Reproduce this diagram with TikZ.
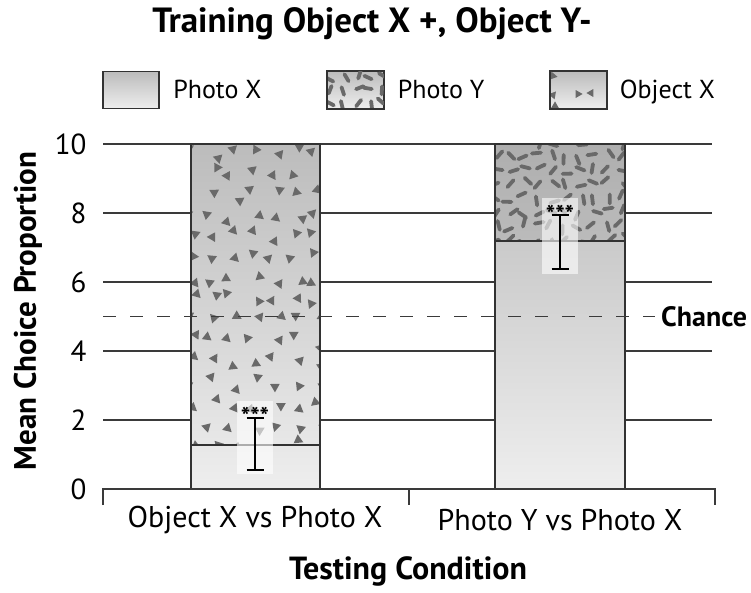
\documentclass[tikz,border=0pt]{standalone}
\usepackage{fontspec}
\setmainfont{PT Sans}
\usepackage{tikz}
\usetikzlibrary{positioning}
\definecolor{GridDark}{RGB}{58,58,58}
\definecolor{BarEdge}{RGB}{50,50,50}
\definecolor{MarkGray}{RGB}{105,105,105}
\definecolor{ShadeTop}{RGB}{188,188,188}
\definecolor{ShadeBot}{RGB}{238,238,238}
\tikzset{
  gridln/.style={GridDark,line width=1.5pt},
  chanceln/.style={GridDark,line width=1.8pt,dash pattern=on 13pt off 14pt},
  barfill/.style={top color=ShadeTop,bottom color=ShadeBot},
  baredge/.style={draw=BarEdge,line width=1.8pt},
  keybox/.style={draw=BarEdge,line width=1.5pt,top color=ShadeTop,bottom color=ShadeBot,minimum width=56pt,minimum height=37pt,inner sep=0pt},
  trimark/.style={fill=MarkGray},
  dashmark/.style={draw=MarkGray,line width=3.8pt,line cap=round},
  errbg/.style={fill=white,fill opacity=0.6},
  errln/.style={black,line width=1.4pt},
  ticklbl/.style={font=\fontsize{29}{29}\selectfont,anchor=east},
  keylbl/.style={font=\fontsize{26}{26}\selectfont,anchor=base west},
  catlbl/.style={font=\fontsize{30}{30}\selectfont},
  axttl/.style={font=\bfseries\fontsize{32}{32}\selectfont},
  stars/.style={font=\bfseries\fontsize{25}{25}\selectfont,inner sep=0pt},
}

\begin{document}
\begin{tikzpicture}[x=1pt,y=1pt]
  \useasboundingbox (0,0) rectangle (751,592);
  \pgfmathsetseed{11}

  % data part: y in choice units, 0 at 103pt
  \begin{scope}[shift={(0pt,103pt)},y=34.5pt]
    \foreach \v in {2,4,...,10}
      \draw[gridln] (103,\v) -- (712,\v);
    \coordinate (b1lo)  at (191,0);
    \coordinate (b1mid) at (191,1.28);
    \coordinate (b1mr)  at (320,1.28);
    \coordinate (b1top) at (320,10);
    \coordinate (b2lo)  at (495,0);
    \coordinate (b2mid) at (495,7.19);
    \coordinate (b2mr)  at (625,7.19);
    \coordinate (b2top) at (625,10);
    \fill[barfill] (b1lo) rectangle (b1top);
    \fill[barfill] (b2lo) rectangle (b2top);
    \fill[black,opacity=0.07] (b2mid) rectangle (b2top);
  \end{scope}

  % Object X triangles
  \begin{scope}
    \clip (b1mid) rectangle (b1top);
    \foreach \i in {0,...,6}
      \foreach \j in {0,...,15}{
        \pgfmathsetmacro\tx{191+21*\i+7*rand}
        \pgfmathsetmacro\ty{146+21*\j+7*rand}
        \pgfmathsetmacro\tr{360*rnd}
        \fill[trimark,shift={(\tx,\ty)},rotate=\tr] (90:5.6) -- (210:5.6) -- (330:5.6) -- cycle;
      }
  \end{scope}
  % Photo Y dashes
  \begin{scope}
    \clip (b2mid) rectangle (b2top);
    \foreach \i in {0,...,9}
      \foreach \j in {0,...,7}{
        \pgfmathsetmacro\tx{496+14*\i+4*rand}
        \pgfmathsetmacro\ty{352+14*\j+4*rand}
        \pgfmathsetmacro\tr{360*rnd}
        \draw[dashmark,shift={(\tx,\ty)},rotate=\tr] (-4.5,0) -- (4.5,0);
      }
  \end{scope}

  \draw[baredge] (b1lo) rectangle (b1top) (b1mid) -- (b1mr);
  \draw[baredge] (b2lo) rectangle (b2top) (b2mid) -- (b2mr);

  \begin{scope}[shift={(0pt,103pt)},y=34.5pt]
    % axis
    \draw[gridln] (103,-0.47) -- (103,0) -- (715,0) -- (715,-0.47);
    \draw[gridln] (409,0) -- (409,-0.47);
    \foreach \v in {0,2,...,10}
      \node[ticklbl] (yt\v) at (90,\v) {\v};
    % chance
    \draw[chanceln] (103,5) -- (655,5);
    \node[anchor=west,font=\bfseries\fontsize{28}{28}\selectfont,inner sep=0pt] (chance) at (661,5) {Chance};
    % error bars
    \fill[errbg] (237,0.43) rectangle (273,2.55);
    \fill[errbg] (542,6.23) rectangle (578,8.43);
    \coordinate (e1lo) at (255,0.55);
    \coordinate (e1hi) at (255,2.06);
    \coordinate (e2lo) at (560,6.38);
    \coordinate (e2hi) at (560,7.94);
    \draw[errln] (e1lo) -- (e1hi)
      ([xshift=-8.5pt]e1lo) -- ([xshift=8.5pt]e1lo)
      ([xshift=-8.5pt]e1hi) -- ([xshift=8.5pt]e1hi);
    \draw[errln] (e2lo) -- (e2hi)
      ([xshift=-8.5pt]e2lo) -- ([xshift=8.5pt]e2lo)
      ([xshift=-8.5pt]e2hi) -- ([xshift=8.5pt]e2hi);
    \node[stars] (st1) at (255,2.1) {***};
    \node[stars] (st2) at (560,7.95) {***};
  \end{scope}

  % legend
  \node[keybox] (keyX) at (131,502) {};
  \node[keybox] (keyY) at (355.5,502) {};
  \node[keybox] (keyO) at (578.5,502) {};
  \begin{scope}
    \clip (keyY.south west) rectangle (keyY.north east);
    \foreach \i in {0,...,4}
      \foreach \j in {0,...,2}{
        \pgfmathsetmacro\tx{331+13*\i+3*rand}
        \pgfmathsetmacro\ty{489+13*\j+3*rand}
        \pgfmathsetmacro\tr{360*rnd}
        \draw[dashmark,shift={(\tx,\ty)},rotate=\tr] (-4,0) -- (4,0);
      }
  \end{scope}
  \begin{scope}
    \clip (keyO.south west) rectangle (keyO.north east);
    \fill[trimark,shift={(553,516)},rotate=20] (90:4.6) -- (210:4.6) -- (330:4.6) -- cycle;
    \fill[trimark,shift={(553,497)},rotate=80] (90:4.6) -- (210:4.6) -- (330:4.6) -- cycle;
    \fill[trimark,shift={(578,498)},rotate=30] (90:4.6) -- (210:4.6) -- (330:4.6) -- cycle;
    \fill[trimark,shift={(591,499)},rotate=-30] (90:4.6) -- (210:4.6) -- (330:4.6) -- cycle;
    \fill[trimark,shift={(555,486)},rotate=0] (90:4.6) -- (210:4.6) -- (330:4.6) -- cycle;
  \end{scope}
  \draw[BarEdge,line width=1.5pt] (keyY.south west) rectangle (keyY.north east);
  \draw[BarEdge,line width=1.5pt] (keyO.south west) rectangle (keyO.north east);
  \node[keylbl] (keyXl) at ([xshift=10pt,yshift=-9pt]keyX.east) {Photo X};
  \node[keylbl] (keyYl) at ([xshift=10pt,yshift=-9pt]keyY.east) {Photo Y};
  \node[keylbl] (keyOl) at ([xshift=9pt,yshift=-9pt]keyO.east) {Object X};

  % titles
  \node[axttl,font=\bfseries\fontsize{35}{35}\selectfont] (ttl) at (372,568) {Training Object X +, Object Y-};
  \node[axttl,font=\bfseries\fontsize{31}{31}\selectfont,rotate=90] (ylab) at (28,281) {Mean Choice Proportion};
  \node[catlbl] (cat1) at (255,72) {Object X vs Photo X};
  \node[catlbl] (cat2) at (560,72) {Photo Y vs Photo X};
  \node[axttl] (xlab) at (408,21) {Testing Condition};
\end{tikzpicture}
\end{document}
